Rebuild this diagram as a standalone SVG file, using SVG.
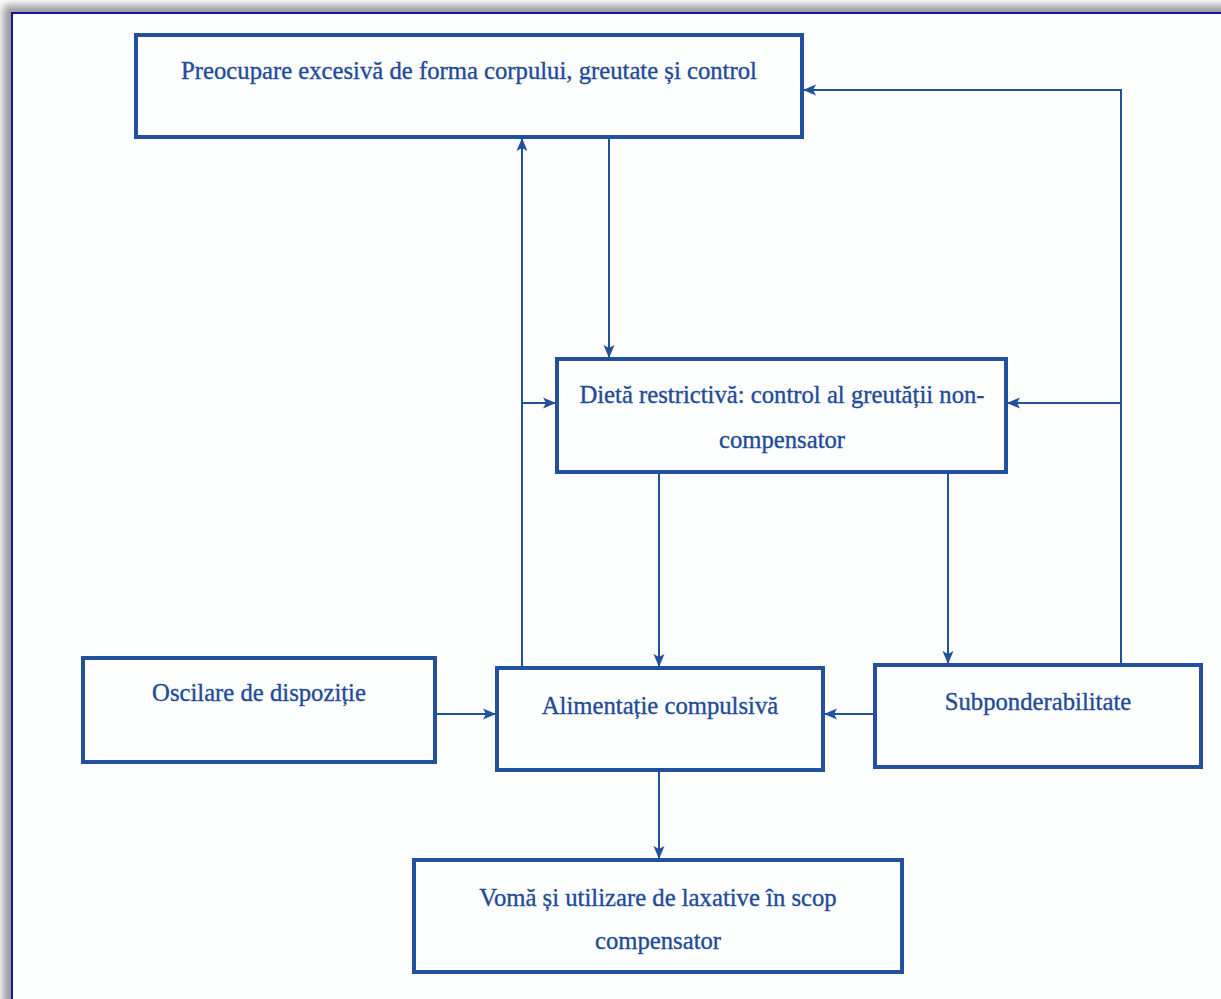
<svg xmlns="http://www.w3.org/2000/svg" width="1221" height="999" viewBox="0 0 1221 999">
  <defs>
    <style>
      .box { fill: #fdfefe; stroke: #22509c; stroke-width: 4; }
      .lbl { font-family: "Liberation Serif", "DejaVu Serif", serif; font-size: 24.7px; fill: #1f4b98; stroke: #1f4b98; stroke-width: 0.35; text-anchor: middle; }
      .wire { fill: none; stroke: #22509c; stroke-width: 2; }
    </style>
    <marker id="arrow" markerUnits="userSpaceOnUse" markerWidth="13" markerHeight="13" viewBox="0 0 13 13" refX="12" refY="6.5" orient="auto">
      <path d="M0,1 L13,6.5 L0,12 L3,6.5 Z" fill="#22509c"/>
    </marker>
    <filter id="soft" x="-5%" y="-5%" width="110%" height="110%">
      <feGaussianBlur stdDeviation="4"/>
    </filter>
  </defs>

  <!-- page backdrop with drop shadow -->
  <rect x="0" y="0" width="1221" height="999" fill="#ffffff"/>
  <rect x="3" y="5" width="1240" height="1020" fill="#9a9a9a" filter="url(#soft)"/>
  <rect x="12" y="13" width="1230" height="1010" fill="#fcfdfd" stroke="#1414a0" stroke-width="2"/>

  <!-- connectors -->
  <g id="connectors">
    <line class="wire" x1="609" y1="139" x2="609" y2="357" marker-end="url(#arrow)"/>
    <line class="wire" x1="522" y1="666" x2="522" y2="139" marker-end="url(#arrow)"/>
    <line class="wire" x1="522" y1="403" x2="555" y2="403" marker-end="url(#arrow)"/>
    <polyline class="wire" points="1121,663 1121,90 804,90" marker-end="url(#arrow)"/>
    <line class="wire" x1="1121" y1="403" x2="1008" y2="403" marker-end="url(#arrow)"/>
    <line class="wire" x1="659" y1="474" x2="659" y2="666" marker-end="url(#arrow)"/>
    <line class="wire" x1="948" y1="474" x2="948" y2="663" marker-end="url(#arrow)"/>
    <line class="wire" x1="437" y1="714" x2="495" y2="714" marker-end="url(#arrow)"/>
    <line class="wire" x1="873" y1="714" x2="825" y2="714" marker-end="url(#arrow)"/>
    <line class="wire" x1="659" y1="772" x2="659" y2="858" marker-end="url(#arrow)"/>
  </g>

  <!-- nodes -->
  <g id="preocupare">
    <rect class="box" x="136" y="35" width="666" height="102"/>
    <text class="lbl" x="469" y="79">Preocupare excesivă de forma corpului, greutate și control</text>
  </g>
  <g id="dieta">
    <rect class="box" x="557" y="359" width="449" height="113"/>
    <text class="lbl" x="782" y="403">Dietă restrictivă: control al greutății non-</text>
    <text class="lbl" x="782" y="448">compensator</text>
  </g>
  <g id="oscilare">
    <rect class="box" x="83" y="658" width="352" height="104"/>
    <text class="lbl" x="259" y="701">Oscilare de dispoziție</text>
  </g>
  <g id="alimentatie">
    <rect class="box" x="497" y="668" width="326" height="102"/>
    <text class="lbl" x="660" y="714">Alimentație compulsivă</text>
  </g>
  <g id="subponderabilitate">
    <rect class="box" x="875" y="665" width="326" height="102"/>
    <text class="lbl" x="1038" y="710">Subponderabilitate</text>
  </g>
  <g id="voma">
    <rect class="box" x="414" y="860" width="488" height="112"/>
    <text class="lbl" x="658" y="906">Vomă și utilizare de laxative în scop</text>
    <text class="lbl" x="658" y="949">compensator</text>
  </g>
</svg>
